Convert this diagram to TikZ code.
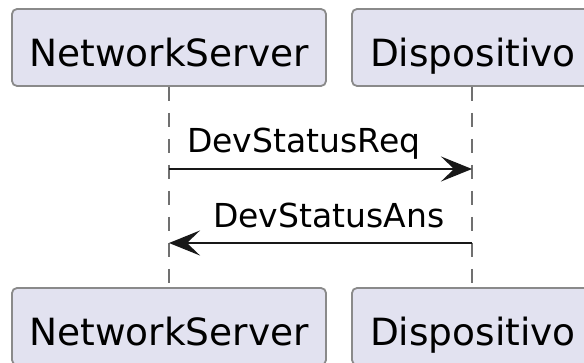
\documentclass[tikz,border=0pt]{standalone}
\usepackage{fontspec}
\setmainfont{DejaVu Sans}
\usetikzlibrary{arrows.meta}
\definecolor{partfill}{HTML}{E2E2F0}
\definecolor{partline}{HTML}{8A8A8A}
\definecolor{msgline}{HTML}{181818}
\definecolor{lifeline}{HTML}{707070}
\tikzset{
  participant/.style={draw=partline, line width=1.8pt, fill=partfill,
    rounded corners=5pt, inner sep=0pt, minimum height=77pt,
    text height=39pt, text depth=0pt,
    font=\fontsize{37.5}{45}\selectfont},
  lifeline/.style={draw=lifeline, line width=1.6pt, dash pattern=on 14pt off 12pt},
  msg/.style={draw=msgline, line width=2.6pt,
    -{Stealth[length=31pt, width=25pt, inset=13pt]}},
  msglabel/.style={anchor=base west, inner sep=0pt,
    font=\fontsize{33}{40}\selectfont},
}
\begin{document}
\begin{tikzpicture}[x=1pt, y=-1pt]
  \clip (0,0) rectangle (584,363);
  \fill[white] (0,0) rectangle (584,363);

  % participants, top and bottom
  \node[participant, minimum width=314pt] (nsTop)  at (169,47.5)  {NetworkServer};
  \node[participant, minimum width=242pt] (devTop) at (473,47.5)  {Dispositivo};
  \node[participant, minimum width=314pt] (nsBot)  at (169,326.5) {NetworkServer};
  \node[participant, minimum width=242pt] (devBot) at (473,326.5) {Dispositivo};

  % lifelines
  \draw[lifeline] (nsTop.south) -- (nsBot.north);
  \draw[lifeline] ([xshift=-1pt]devTop.south) -- ([xshift=-1pt]devBot.north);

  % messages
  \coordinate (reqA) at (nsTop.south |- 0,169);
  \coordinate (reqB) at ([xshift=-1pt]devTop.south |- 0,169);
  \coordinate (ansA) at ([xshift=-1pt]devTop.south |- 0,243);
  \coordinate (ansB) at (nsTop.south |- 0,243);
  \draw[msg] (reqA) -- (reqB);
  \draw[msg] (ansA) -- (ansB);

  \node[msglabel] (reqLbl) at (187,153) {DevStatusReq};
  \node[msglabel] (ansLbl) at (213,228) {DevStatusAns};
\end{tikzpicture}
\end{document}
